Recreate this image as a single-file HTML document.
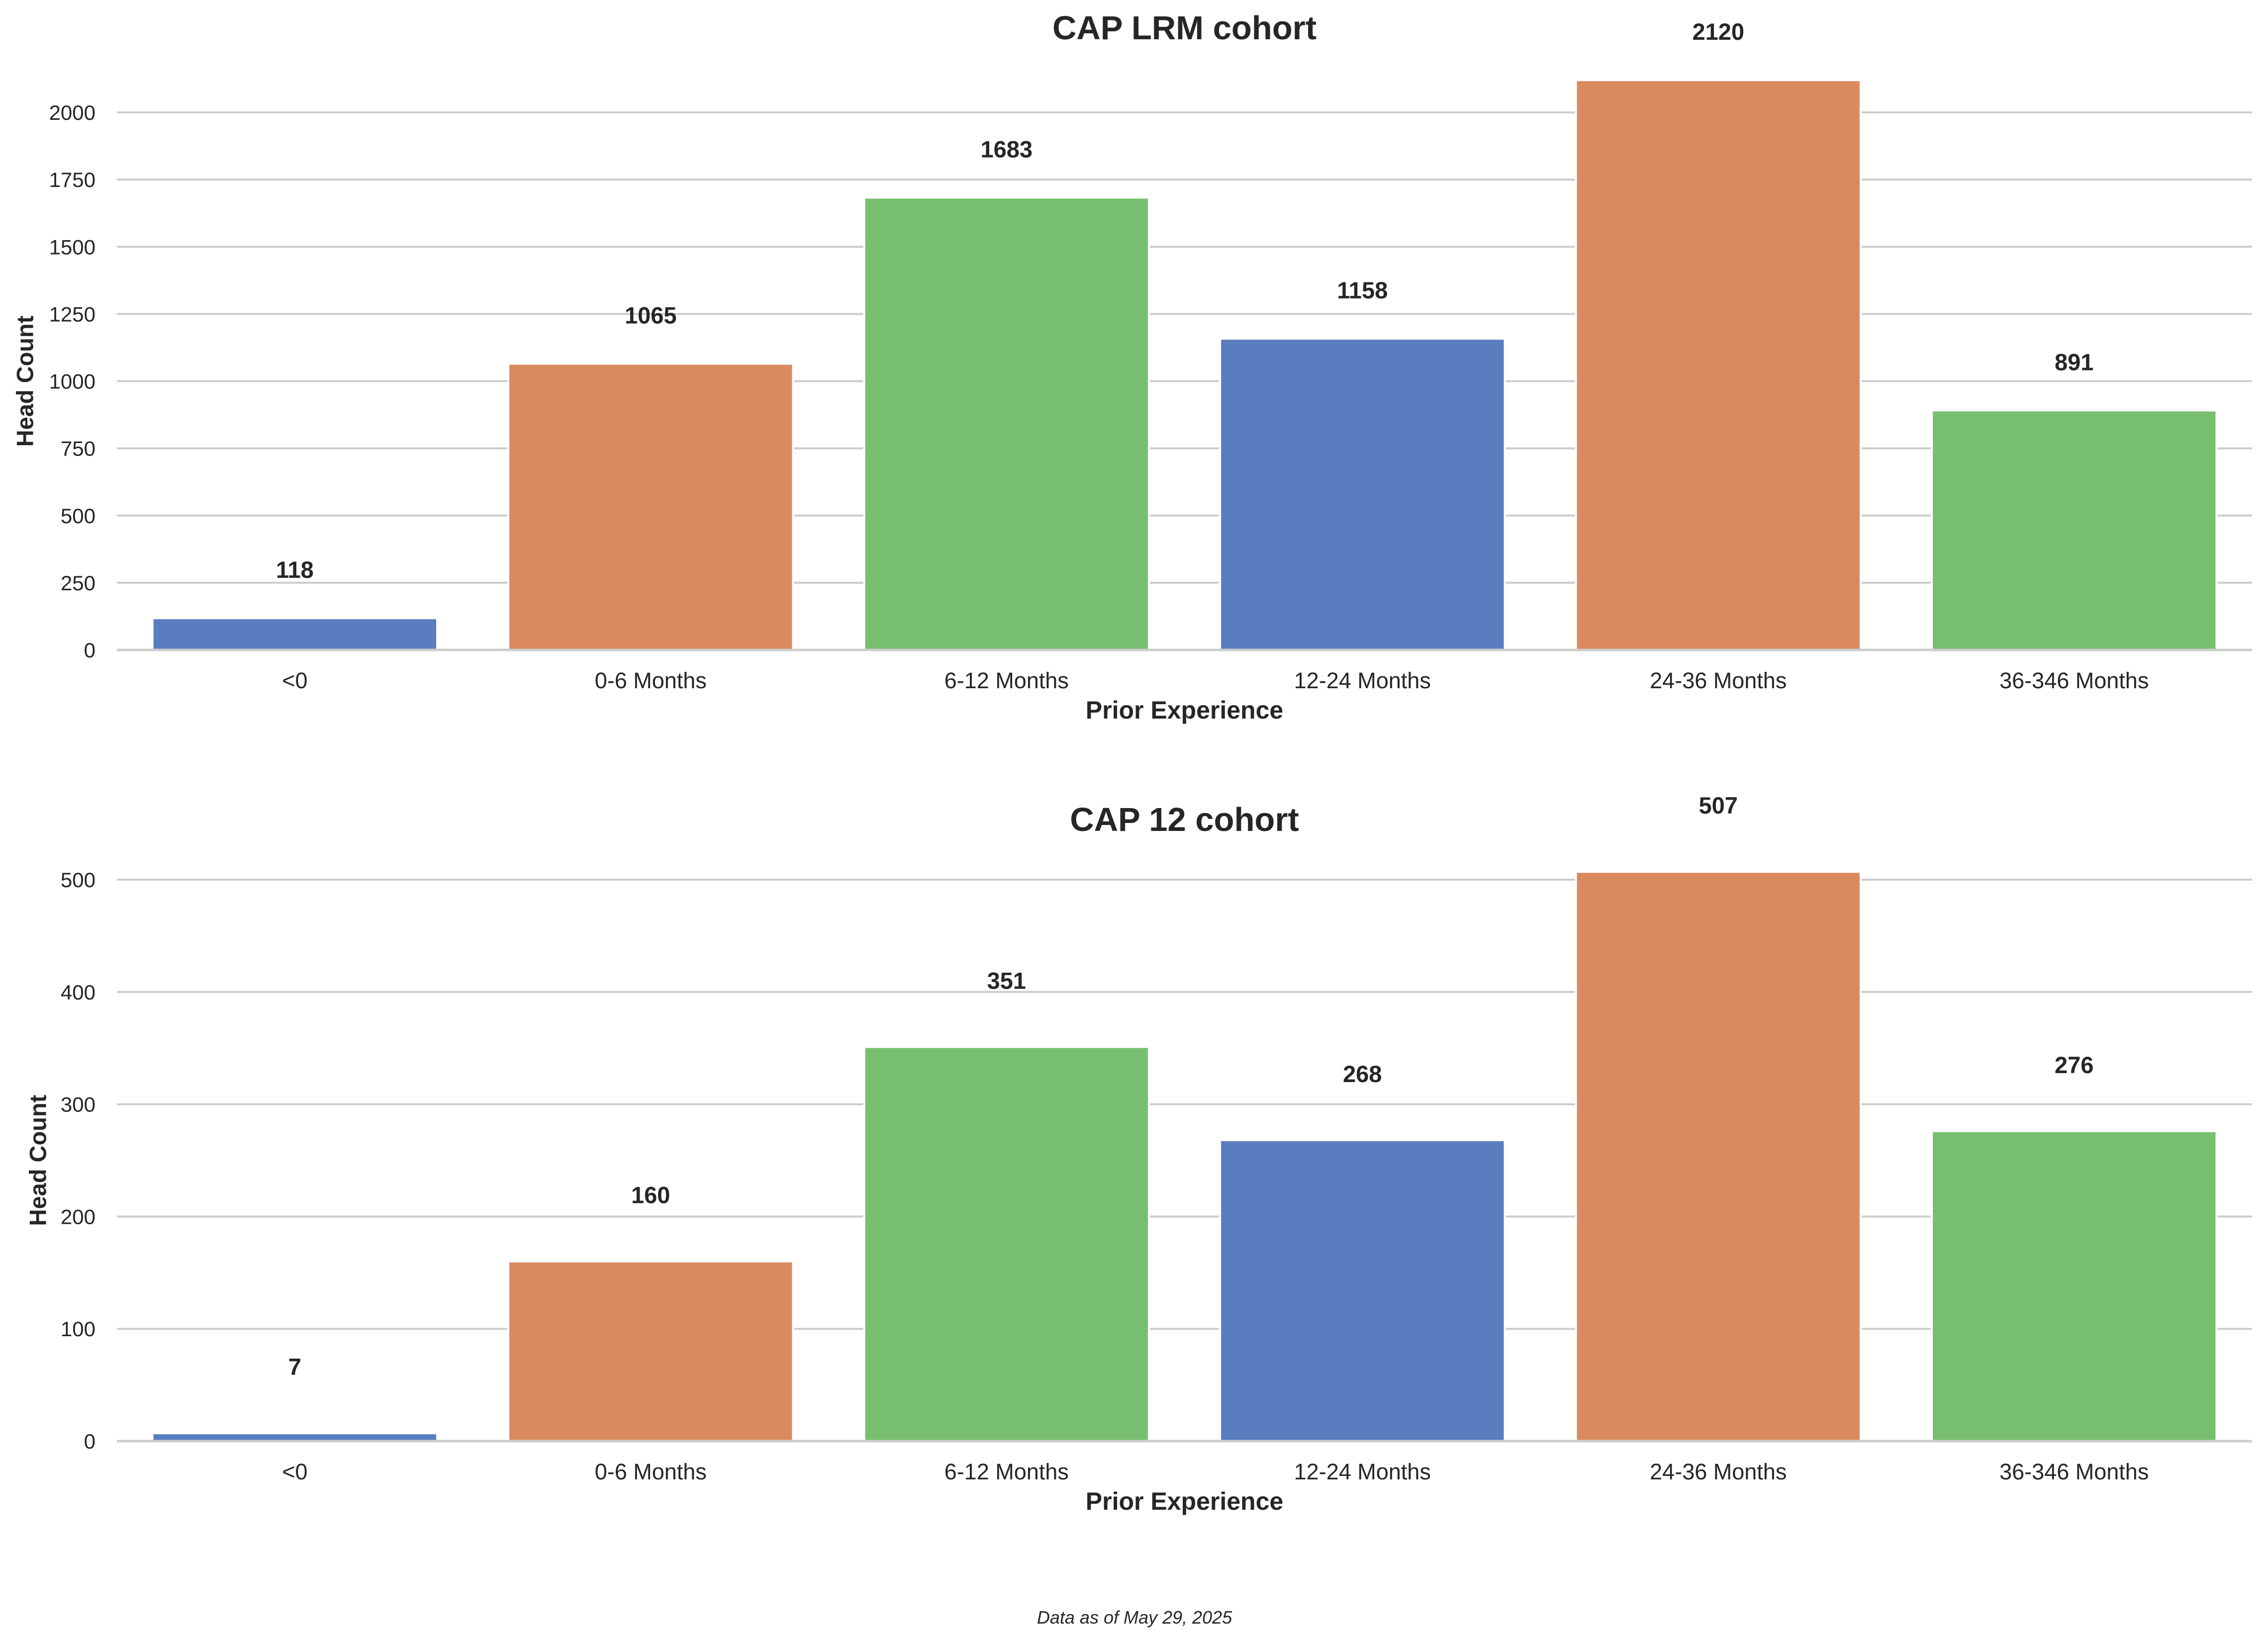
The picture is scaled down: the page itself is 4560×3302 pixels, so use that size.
<!DOCTYPE html>
<html><head><meta charset="utf-8"><style>
html,body{margin:0;padding:0;background:#fff;}
svg{display:block;font-family:"Liberation Sans",sans-serif;}
</style></head><body>
<svg id="chart" width="4560" height="3302" viewBox="0 0 4560 3302" xmlns="http://www.w3.org/2000/svg"></svg>
<script>
const categories = ["<0","0-6 Months","6-12 Months","12-24 Months","24-36 Months","36-346 Months"];
const lrmValues = [118,1065,1683,1158,2120,891];
const cap12Values = [7,160,351,268,507,276];
const lrmTicks = [0,250,500,750,1000,1250,1500,1750,2000];
const cap12Ticks = [0,100,200,300,400,500];
const colors = ["#5a7dbf","#d98a5f","#77bf6f"];

const svg = document.getElementById('chart');
const NS = "http://www.w3.org/2000/svg";
function mk(tag, attrs, parent){
  const e = document.createElementNS(NS, tag);
  for (const k in attrs) e.setAttribute(k, attrs[k]);
  (parent||svg).appendChild(e);
  return e;
}
const X0 = 235, X1 = 4528;
const step = (X1 - X0) / categories.length;
function xCenter(i){ return X0 + step*(i+0.5); }

function drawPanel(key, title, values, ticks, y0, yTopVal, yTopPx, titleY, labelOffset, yLabelX){
  const g = mk('g', {});
  
  
  const scale = (y0 - yTopPx) / yTopVal;
  const yPos = v => y0 - v*scale;
  ticks.forEach(t => {
    const l = mk('line', {x1:X0, x2:X1, y1:yPos(t), y2:yPos(t), stroke:'#cccccc', 'stroke-width':4}, g);
    
    
    const tx = mk('text', {x:192, y:yPos(t)+15, 'text-anchor':'end', 'font-size':42, fill:'#262626'}, g);
    tx.textContent = t;
    
    
  });
  values.forEach((v,i) => {
    const bw = step*0.8;
    const r = mk('rect', {x:xCenter(i)-bw/2, y:yPos(v), width:bw, height:y0-yPos(v), fill:colors[i%3], stroke:'#ffffff', 'stroke-width':4}, g);
    
    
    const vl = mk('text', {x:xCenter(i), y:yPos(v)-labelOffset, 'text-anchor':'middle', 'font-size':47, 'font-weight':'bold', fill:'#262626'}, g);
    vl.textContent = v;
    
    
    const xl = mk('text', {x:xCenter(i), y:y0+77, 'text-anchor':'middle', 'font-size':45, fill:'#262626'}, g);
    xl.textContent = categories[i];
    
    
  });
  const base = mk('line', {x1:X0, x2:X1, y1:y0, y2:y0, stroke:'#cccccc', 'stroke-width':5}, g);
  
  
  const t = mk('text', {x:(X0+X1)/2, y:titleY, 'text-anchor':'middle', 'font-size':67, 'font-weight':'bold', fill:'#262626'}, g);
  t.textContent = title;
  
  
  const xa = mk('text', {x:(X0+X1)/2, y:y0+138, 'text-anchor':'middle', 'font-size':50, 'font-weight':'bold', fill:'#262626'}, g);
  xa.textContent = 'Prior Experience';
  
  
  const cy = (y0+yPos(ticks[ticks.length-1]))/2;
  const ya = mk('text', {x:yLabelX, y:cy, 'text-anchor':'middle', 'font-size':47, 'font-weight':'bold', fill:'#262626', transform:'rotate(-90 '+yLabelX+' '+cy+')', 'dominant-baseline':'central'}, g);
  ya.textContent = 'Head Count';
  
  
}
drawPanel('lrm', 'CAP LRM cohort', lrmValues, lrmTicks, 1307, 2000, 226, 79, 81, 50);
drawPanel('cap12', 'CAP 12 cohort', cap12Values, cap12Ticks, 2898, 500, 1769, 1671, 117, 76);

const fn = mk('text', {x:2281, y:3265, 'text-anchor':'middle', 'font-size':36, 'font-style':'italic', fill:'#262626'});
fn.textContent = 'Data as of May 29, 2025';


</script>
</body></html>
